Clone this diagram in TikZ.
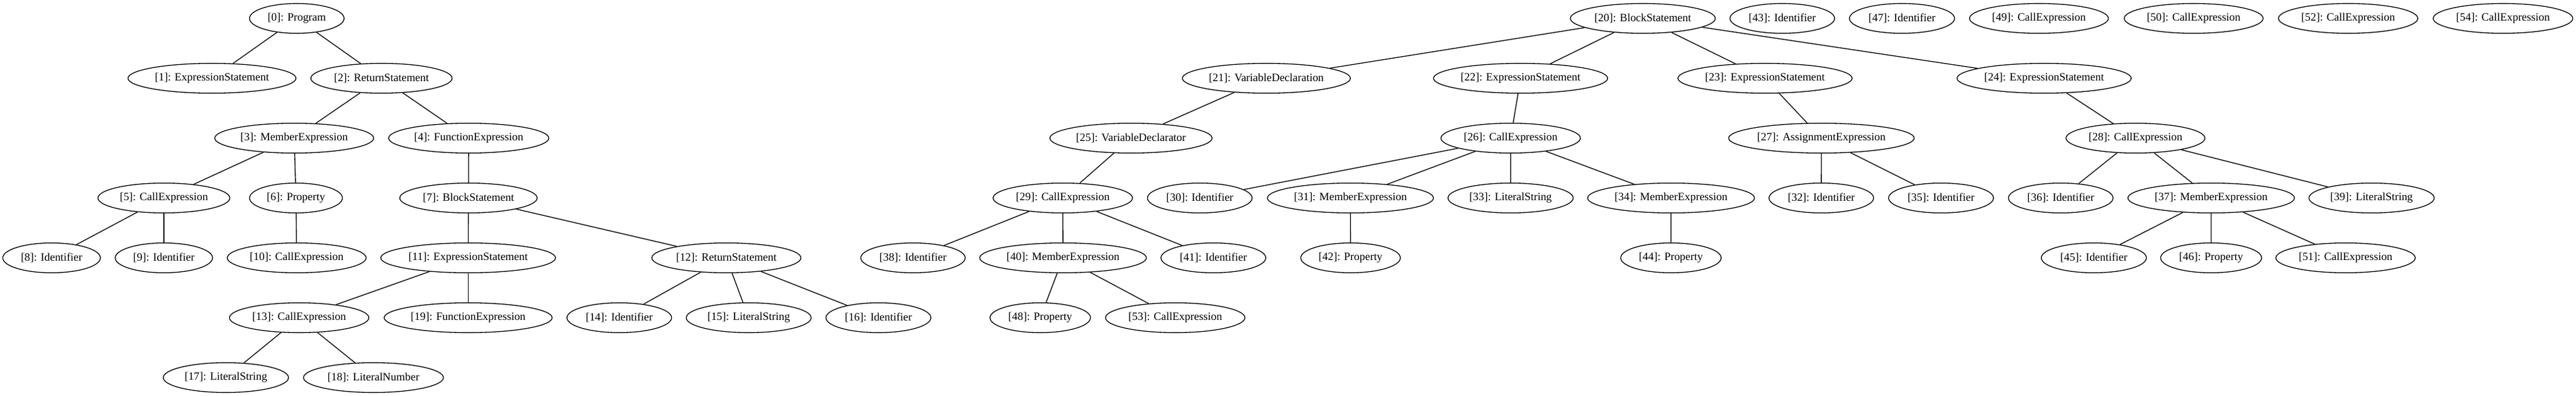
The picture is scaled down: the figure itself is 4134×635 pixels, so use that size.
\documentclass[tikz,border=0pt]{standalone}
\usepackage{fontspec}
\setmainfont{Liberation Serif}
\usetikzlibrary{shapes.geometric}

\tikzset{
    astnode/.style={draw, ellipse, line width=1pt, inner sep=1pt, minimum height=36pt, font=\fontsize{13.5}{16}\selectfont},
    astedge/.style={line width=1pt}
}

\newcommand{\astNode}[5]{\node[astnode, minimum width=#4*0.753pt] (#1) at (#2,{29.5+96*#3}) {#5};}

\begin{document}
\begin{tikzpicture}[x=0.753pt, y=-0.753pt]
        \useasboundingbox (0,0) rectangle (4134,635);

        % Tree of the program
        \astNode{n0}{476.3}{0}{151.8}{[0]: Program}
        \astNode{n1}{340.2}{1}{269.6}{[1]: ExpressionStatement}
        \astNode{n2}{612.2}{1}{226.7}{[2]: ReturnStatement}
        \astNode{n3}{472.1}{2}{255}{[3]: MemberExpression}
        \astNode{n4}{752.2}{2}{257}{[4]: FunctionExpression}
        \astNode{n5}{263}{3}{211.6}{[5]: CallExpression}
        \astNode{n6}{475}{3}{149}{[6]: Property}
        \astNode{n7}{751.8}{3}{220.5}{[7]: BlockStatement}
        \astNode{n8}{82.8}{4}{156.7}{[8]: Identifier}
        \astNode{n9}{263}{4}{156.2}{[9]: Identifier}
        \astNode{n10}{476.1}{4}{222.8}{[10]: CallExpression}
        \astNode{n11}{751.3}{4}{280.4}{[11]: ExpressionStatement}
        \astNode{n12}{1165.7}{4}{239.3}{[12]: ReturnStatement}
        \astNode{n13}{480.1}{5}{223.7}{[13]: CallExpression}
        \astNode{n19}{751.3}{5}{269.6}{[19]: FunctionExpression}
        \astNode{n14}{993.8}{5}{167.9}{[14]: Identifier}
        \astNode{n15}{1201.5}{5}{200.5}{[15]: LiteralString}
        \astNode{n16}{1409.7}{5}{168.4}{[16]: Identifier}
        \astNode{n17}{362.5}{6}{201}{[17]: LiteralString}
        \astNode{n18}{599.3}{6}{224.6}{[18]: LiteralNumber}

        % Tree of the block
        \astNode{n20}{2636.4}{0}{232.6}{[20]: BlockStatement}
        \astNode{n21}{2032.3}{1}{269.7}{[21]: VariableDeclaration}
        \astNode{n22}{2440.2}{1}{279.5}{[22]: ExpressionStatement}
        \astNode{n23}{2832.5}{1}{279.5}{[23]: ExpressionStatement}
        \astNode{n24}{3280.4}{1}{279.5}{[24]: ExpressionStatement}
        \astNode{n25}{1815}{2}{260.3}{[25]: VariableDeclarator}
        \astNode{n26}{2424.3}{2}{223.7}{[26]: CallExpression}
        \astNode{n27}{2923}{2}{297.8}{[27]: AssignmentExpression}
        \astNode{n28}{3427}{2}{222.8}{[28]: CallExpression}
        \astNode{n29}{1705.6}{3}{223.7}{[29]: CallExpression}
        \astNode{n30}{1925.4}{3}{167.9}{[30]: Identifier}
        \astNode{n31}{2167.2}{3}{266.5}{[31]: MemberExpression}
        \astNode{n33}{2424.2}{3}{200.9}{[33]: LiteralString}
        \astNode{n34}{2681.7}{3}{267.8}{[34]: MemberExpression}
        \astNode{n32}{2922.8}{3}{167.9}{[32]: Identifier}
        \astNode{n35}{3115}{3}{168.3}{[35]: Identifier}
        \astNode{n36}{3307.1}{3}{167.9}{[36]: Identifier}
        \astNode{n37}{3548.5}{3}{267.3}{[37]: MemberExpression}
        \astNode{n39}{3805.9}{3}{201}{[39]: LiteralString}
        \astNode{n38}{1465.2}{4}{167.5}{[38]: Identifier}
        \astNode{n40}{1706}{4}{267.4}{[40]: MemberExpression}
        \astNode{n41}{1947.2}{4}{168.3}{[41]: Identifier}
        \astNode{n42}{2167.4}{4}{159.8}{[42]: Property}
        \astNode{n44}{2681.5}{4}{161.2}{[44]: Property}
        \astNode{n45}{3360.2}{4}{168.7}{[45]: Identifier}
        \astNode{n46}{3548.4}{4}{162}{[46]: Property}
        \astNode{n51}{3764.2}{4}{223.7}{[51]: CallExpression}
        \astNode{n48}{1669.4}{5}{161.2}{[48]: Property}
        \astNode{n53}{1886}{5}{223.7}{[53]: CallExpression}

        % Nodes without edges
        \astNode{n43}{2860.2}{0}{167.9}{[43]: Identifier}
        \astNode{n47}{3052.3}{0}{168.7}{[47]: Identifier}
        \astNode{n49}{3272.1}{0}{222.8}{[49]: CallExpression}
        \astNode{n50}{3520.4}{0}{222.9}{[50]: CallExpression}
        \astNode{n52}{3768.3}{0}{223.6}{[52]: CallExpression}
        \astNode{n54}{4016.8}{0}{224}{[54]: CallExpression}

        % Draw edges
        \foreach \a/\b in {n0/n1, n0/n2, n2/n3, n2/n4, n3/n5, n3/n6, n5/n8, n5/n9, n6/n10,
                n4/n7, n7/n11, n7/n12, n11/n13, n11/n19, n13/n17, n13/n18, n12/n14, n12/n15, n12/n16}
            \draw[astedge] (\a) -- (\b);
        \foreach \a/\b in {n20/n21, n20/n22, n20/n23, n20/n24, n21/n25, n25/n29, n29/n38, n29/n40,
                n29/n41, n40/n48, n40/n53, n22/n26, n26/n30, n26/n31, n26/n33, n26/n34, n31/n42,
                n34/n44, n23/n27, n27/n32, n27/n35, n24/n28, n28/n36, n28/n37, n28/n39,
                n37/n45, n37/n46, n37/n51}
            \draw[astedge] (\a) -- (\b);

    \end{tikzpicture}
\end{document}
